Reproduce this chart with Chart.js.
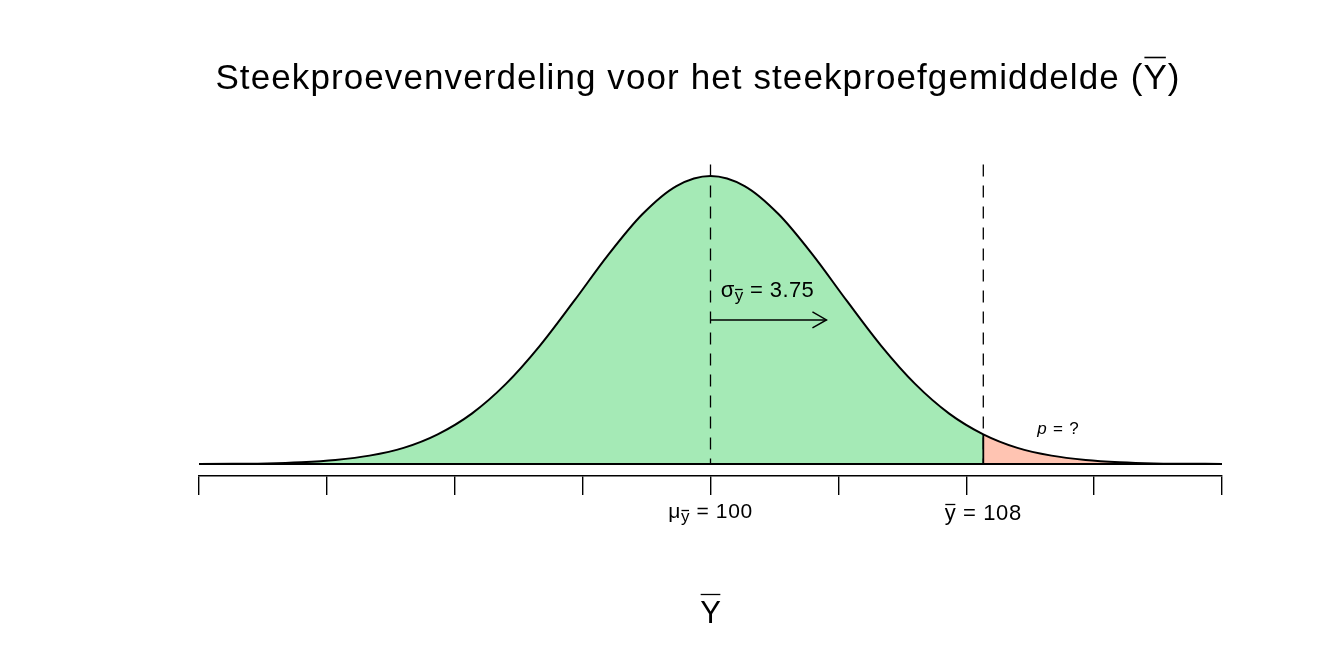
<!DOCTYPE html>
<html>
<head>
<meta charset="utf-8">
<script src="https://cdn.jsdelivr.net/npm/chart.js@4/dist/chart.umd.min.js"></script>
<style>
  html, body { margin: 0; padding: 0; background: #fff; }
  #wrap { width: 1344px; height: 672px; }
</style>
</head>
<body>
<div id="wrap"><canvas id="chart"></canvas></div>
<script>
// Values (relative height of the density curve, peak = 1)
const xValues = [85, 86, 87, 88, 89, 90, 91, 92, 93, 94, 95, 96, 97, 98, 99, 100,
                 101, 102, 103, 104, 105, 106, 107, 108, 109, 110, 111, 112, 113, 114, 115];
const density = [0.000, 0.001, 0.002, 0.006, 0.014, 0.029, 0.056, 0.103, 0.175, 0.278, 0.411,
                 0.566, 0.726, 0.867, 0.965, 1.000, 0.965, 0.867, 0.726, 0.566, 0.411, 0.278,
                 0.175, 0.103, 0.056, 0.029, 0.014, 0.006, 0.002, 0.001, 0.000];
const meanValue = 100;
const observedValue = 108;
const arrowEnd = 103.4;
const tickStep = 3.75;
const titleText = 'Steekproevenverdeling voor het steekproefgemiddelde (';
const muLabel = ' = 100';
const obsLabel = ' = 108';
const sigmaLabel = ' = 3.75';

const FONT = '"Liberation Sans", Arial, Helvetica, sans-serif';

const points = xValues.map((x, i) => ({ x: x, y: density[i] }));
const leftPart = points.filter(p => p.x <= observedValue);
const rightPart = points.filter(p => p.x >= observedValue);

// draws a row of text pieces centred on cx; pieces may be smaller / lowered / overlined
function drawPieces(ctx, pieces, cx, baseline, spacing) {
  ctx.letterSpacing = (spacing || 0) + 'px';
  let total = 0;
  pieces.forEach(p => {
    ctx.font = (p.italic ? 'italic ' : '') + p.size + 'px ' + FONT;
    p.w = ctx.measureText(p.t).width;
    total += p.w;
  });
  let x = cx - total / 2;
  ctx.textAlign = 'left';
  ctx.textBaseline = 'alphabetic';
  pieces.forEach(p => {
    ctx.font = (p.italic ? 'italic ' : '') + p.size + 'px ' + FONT;
    const by = baseline + (p.dy || 0);
    ctx.fillText(p.t, x, by);
    if (p.bar) {
      const yb = Math.round(by - p.size * p.bar) + 0.5;
      ctx.beginPath();
      ctx.lineWidth = 1.3;
      ctx.moveTo(x + 0.5, yb);
      ctx.lineTo(x + p.w - 0.5 - (spacing || 0), yb);
      ctx.stroke();
    }
    x += p.w;
  });
  ctx.letterSpacing = '0px';
}

function seg(ctx, x1, y1, x2, y2) {
  ctx.beginPath();
  ctx.moveTo(x1, y1);
  ctx.lineTo(x2, y2);
  ctx.stroke();
}

const annotations = {
  id: 'annotations',
  afterDatasetsDraw(chart) {
    const { ctx, scales: { x, y } } = chart;
    const base = y.getPixelForValue(0);
    const xm = x.getPixelForValue(meanValue);
    const xo = x.getPixelForValue(observedValue);
    const top = y.getPixelForValue(1.04);
    ctx.save();
    ctx.strokeStyle = '#000';
    ctx.lineWidth = 1.8;
    // baseline of the polygons
    seg(ctx, x.left, base, x.right, base);
    // solid edge at the cutoff
    const fo = density[xValues.indexOf(observedValue)];
    seg(ctx, xo, base, xo, y.getPixelForValue(fo));
    // dashed reference lines
    ctx.lineWidth = 1.3;
    ctx.setLineDash([12, 9]);
    seg(ctx, xm, top, xm, base);
    seg(ctx, xo, top, xo, base);
    ctx.setLineDash([]);
    // sigma arrow
    const ya = y.getPixelForValue(0.5);
    const xa = x.getPixelForValue(arrowEnd);
    ctx.lineWidth = 1.5;
    seg(ctx, xm, ya, xa, ya);
    ctx.beginPath();
    ctx.moveTo(xa - 14, ya - 8);
    ctx.lineTo(xa, ya);
    ctx.lineTo(xa - 14, ya + 8);
    ctx.stroke();
    ctx.restore();
  },
  afterDraw(chart) {
    const { ctx, scales: { x, y } } = chart;
    const xm = x.getPixelForValue(meanValue);
    const xo = x.getPixelForValue(observedValue);
    const axisY = x.top;
    ctx.save();
    ctx.fillStyle = '#000';
    ctx.strokeStyle = '#000';

    // title
    ctx.font = '35px ' + FONT;
    ctx.letterSpacing = '1.1px';
    const w1 = ctx.measureText(titleText).width;
    const wY = ctx.measureText('Y').width;
    const w2 = ctx.measureText(')').width;
    const tx = 698 - (w1 + wY + w2) / 2;
    const tb = 89;
    ctx.textAlign = 'left';
    ctx.textBaseline = 'alphabetic';
    ctx.fillText(titleText, tx, tb);
    ctx.fillText('Y', tx + w1, tb);
    ctx.fillText(')', tx + w1 + wY, tb);
    ctx.letterSpacing = '0px';
    ctx.lineWidth = 1.6;
    seg(ctx, tx + w1 + 1, 57.5, tx + w1 + wY - 2, 57.5);

    // sigma label
    drawPieces(ctx, [
      { t: '\u03c3', size: 22 },
      { t: 'y', size: 17, dy: 4, bar: 0.68 },
      { t: sigmaLabel, size: 22 }
    ], x.getPixelForValue(101.67), y.getPixelForValue(0.58), 0.4);

    // p label
    drawPieces(ctx, [
      { t: 'p', size: 17, italic: true },
      { t: ' = ?', size: 17 }
    ], x.getPixelForValue(110.2), y.getPixelForValue(0.103), 0.8);

    // labels under the axis
    drawPieces(ctx, [
      { t: '\u03bc', size: 21 },
      { t: 'y', size: 17, dy: 4, bar: 0.68 },
      { t: muLabel, size: 21 }
    ], xm, axisY + 42, 0.6);
    drawPieces(ctx, [
      { t: 'y', size: 22, bar: 0.72 },
      { t: obsLabel, size: 22 }
    ], xo, axisY + 44, 0.6);

    // axis title
    drawPieces(ctx, [{ t: 'Y', size: 31, bar: 0.93 }], xm, 623);
    ctx.restore();
  }
};

new Chart(document.getElementById('chart'), {
  type: 'line',
  data: {
    datasets: [
      {
        data: leftPart,
        backgroundColor: 'rgb(165, 234, 182)',
        borderWidth: 0,
        pointRadius: 0,
        fill: 'origin',
        order: 1,
        cubicInterpolationMode: 'monotone'
      },
      {
        data: rightPart,
        backgroundColor: 'rgb(255, 196, 178)',
        borderWidth: 0,
        pointRadius: 0,
        fill: 'origin',
        order: 1,
        cubicInterpolationMode: 'monotone'
      },
      {
        data: points,
        borderColor: '#000',
        borderWidth: 2,
        pointRadius: 0,
        fill: false,
        order: 0,
        cubicInterpolationMode: 'monotone'
      }
    ]
  },
  options: {
    responsive: true,
    maintainAspectRatio: false,
    animation: false,
    events: [],
    layout: { padding: { left: 199, right: 122, top: 150, bottom: 177 } },
    plugins: {
      legend: { display: false },
      title: { display: false },
      tooltip: { enabled: false }
    },
    scales: {
      x: {
        type: 'linear',
        min: 85,
        max: 115,
        ticks: { display: false, stepSize: tickStep },
        grid: { drawOnChartArea: false, drawTicks: true, tickLength: 19, color: '#000', lineWidth: 1.4 },
        border: { display: true, color: '#000', width: 1.4 }
      },
      y: {
        display: false,
        min: -0.0417,
        max: 1.09
      }
    }
  },
  plugins: [annotations]
});
</script>
</body>
</html>
